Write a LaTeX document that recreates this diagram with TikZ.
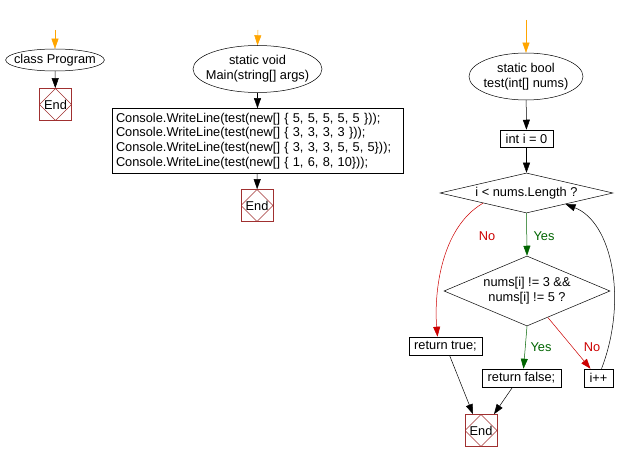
\documentclass[tikz,border=0pt]{standalone}
\usepackage{fontspec}
\setmainfont{Liberation Sans}
\usepackage{tikz}
\usetikzlibrary{arrows.meta,calc,shapes.geometric}
\definecolor{startor}{HTML}{FFA500}
\definecolor{endred}{HTML}{A03030}
\definecolor{yesgreen}{HTML}{006400}
\definecolor{nored}{HTML}{CC0000}
\tikzset{
  txt/.style={font=\fontsize{12.8}{14.8}\selectfont},
  oval/.style={ellipse, draw, line width=.5pt, inner sep=0pt, align=center, txt},
  stmt/.style={rectangle, draw, line width=.5pt, inner sep=0pt, align=center, txt},
  cond/.style={diamond, draw, line width=.5pt, inner sep=0pt, align=center, txt},
  endbox/.style={rectangle, draw=endred, line width=.6pt, minimum size=32pt, inner sep=0pt, txt,
    path picture={\draw[endred, line width=.4pt] (path picture bounding box.north) -- (path picture bounding box.east) -- (path picture bounding box.south) -- (path picture bounding box.west) -- cycle;}},
  ar/.style={-{Triangle[length=10pt,width=7pt]}, line width=.5pt},
  arstart/.style={ar, draw=startor},
  aryes/.style={ar, draw=yesgreen},
  arno/.style={ar, draw=nored},
  lblyes/.style={txt, text=yesgreen},
  lblno/.style={txt, text=nored},
}
\begin{document}
\begin{tikzpicture}[x=1pt, y=-1pt]
  \useasboundingbox (0,0) rectangle (633,462);
  % class Program
  \coordinate (s1) at (55,30);
  \node[oval, inner xsep=-6pt, minimum width=96pt, minimum height=22pt] (prog) at (55,60) {class Program};
  \node[endbox] (end1) at (55.5,104.5) {End};
  \draw[arstart] (s1) -- (prog.north);
  \draw[ar] (prog) -- (end1);
  % Main
  \coordinate (s2) at (258,30);
  \node[oval, inner xsep=-6.4pt, minimum width=129pt, minimum height=47pt] (main) at (257.5,69) {static void\\Main(string[] args)};
  \node[stmt, minimum width=291pt, minimum height=65pt, align=left, text width=283pt] (calls) at (257.5,141)
    {Console.WriteLine(test(new[] \{ 5, 5, 5, 5, 5 \}));\\
     Console.WriteLine(test(new[] \{ 3, 3, 3, 3 \}));\\
     Console.WriteLine(test(new[] \{ 3, 3, 3, 5, 5, 5\}));\\
     Console.WriteLine(test(new[] \{ 1, 6, 8, 10\}));};
  \node[endbox] (end2) at (257,205.5) {End};
  \draw[arstart] (s2) -- (main.north);
  \draw[ar] (main) -- (calls);
  \draw[ar] (calls) -- (end2);
  % test
  \coordinate (s3) at (526,20);
  \node[oval, inner xsep=-2pt, minimum width=114pt, minimum height=47pt] (test) at (526,76.5) {static bool\\test(int[] nums)};
  \node[stmt, minimum width=53pt, minimum height=17pt] (init) at (526.5,138.5) {int i = 0};
  \node[cond, minimum width=173pt, minimum height=40pt, aspect=4.3] (loop) at (526.5,193) {i < nums.Length ?};
  \node[cond, minimum width=166pt, minimum height=70pt, aspect=2.37] (check) at (527,291) {nums[i] != 3 \&\&\\nums[i] != 5 ?};
  \node[stmt, minimum width=73pt, minimum height=18pt] (rtrue) at (445.5,346) {return true;};
  \node[stmt, minimum width=79pt, minimum height=18pt] (rfalse) at (521.5,378) {return false;};
  \node[stmt, minimum width=29pt, minimum height=18pt] (incr) at (598.5,378) {i++};
  \node[endbox] (end3) at (481,430.5) {End};
  \draw[arstart] (s3) -- (test.north);
  \draw[ar] (test) -- (init);
  \draw[ar] (init) -- (loop);
  \draw[arno] (loop.south west) .. controls (440,228) and (434,295) .. ([xshift=-8pt]rtrue.north);
  \node[lblno] (no1) at (487,236) {No};
  \draw[aryes] (loop.south) -- (check.north);
  \node[lblyes] (yes1) at (544,236) {Yes};
  \draw[aryes] (check.south) -- ([xshift=2pt]rfalse.north);
  \node[lblyes] (yes2) at (541,347) {Yes};
  \draw[arno] ($(check.south)!0.25!(check.east)$) -- ([xshift=-8pt]incr.north);
  \node[lblno] (no2) at (592,347) {No};
  \draw[ar] ([xshift=3pt]incr.north) .. controls (628,300) and (612,222) .. ($(loop.south)!0.45!(loop.east)$);
  \draw[ar] ([xshift=4pt]rtrue.south) -- ([xshift=-8pt]end3.north);
  \draw[ar] ([xshift=-9pt]rfalse.south) -- ([xshift=13pt]end3.north);
\end{tikzpicture}
\end{document}
